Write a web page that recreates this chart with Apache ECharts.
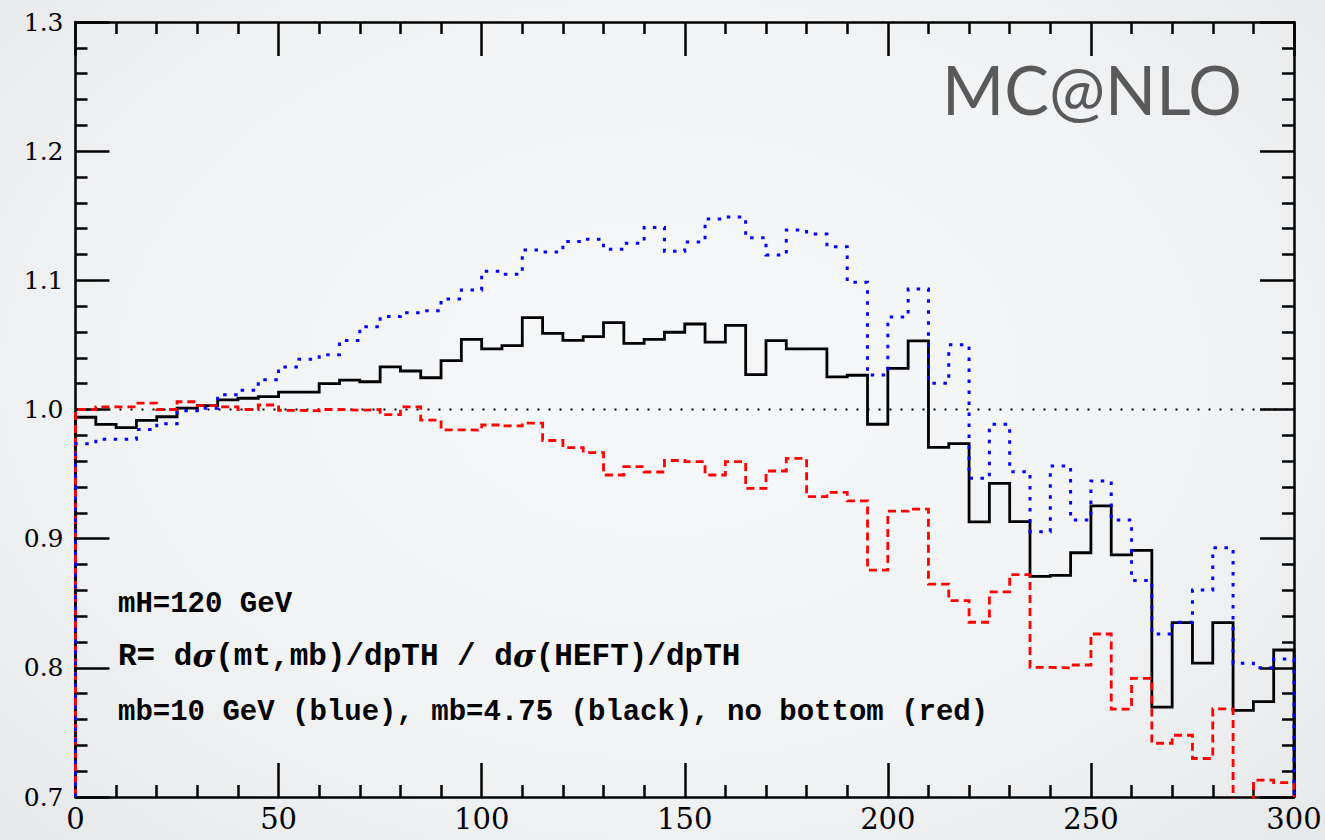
<!DOCTYPE html>
<html>
<head>
<meta charset="utf-8">
<title>MC@NLO ratio R vs pTH</title>
<script src="https://cdn.jsdelivr.net/npm/echarts@6/dist/echarts.min.js"></script>
<style>
  html, body { margin: 0; padding: 0; width: 1325px; height: 840px; overflow: hidden; }
  body { background: radial-gradient(ellipse at 50% 45%, #f6f7f8 0%, #f2f3f5 55%, #e7e8ea 100%); }
  #chart { width: 1325px; height: 840px; }
</style>
</head>
<body>
<div id="chart"></div>
<script>
// Axis ranges and histogram binning (pTH in GeV, 5 GeV bins)
const X_MIN = 0, X_MAX = 300, X_STEP = 50;
const Y_MIN = 0.7, Y_MAX = 1.3, Y_STEP = 0.1;
const BIN_WIDTH = 5;
const REF_LEVEL = 1.0;

const X_TICK_LABELS = ['0', '50', '100', '150', '200', '250', '300'];
const Y_TICK_LABELS = ['0.7', '0.8', '0.9', '1.0', '1.1', '1.2', '1.3'];

// Ratio per bin: mb = 10 GeV (blue)
const ratioMb10 = [
  0.9735, 0.977, 0.977, 0.9845, 0.989, 0.999, 1.001, 1.0115, 1.015, 1.023,
  1.033, 1.039, 1.0424, 1.0535, 1.064, 1.072, 1.075, 1.0765, 1.0855, 1.0925,
  1.107, 1.1047, 1.1235, 1.122, 1.130, 1.1318, 1.124, 1.1287, 1.141, 1.1225,
  1.1297, 1.1475, 1.149, 1.133, 1.1196, 1.139, 1.1359, 1.126, 1.0985, 1.0267,
  1.0716, 1.0933, 1.0203, 1.0501, 0.9468, 0.9885, 0.9519, 0.9054, 0.9562, 0.9145,
  0.9447, 0.9145, 0.8676, 0.8262, 0.8352, 0.8602, 0.893, 0.8035, 0.8001, 0.8068
];

// Ratio per bin: mb = 4.75 GeV (black)
const ratioMb475 = [
  0.994, 0.9885, 0.986, 0.9916, 0.9944, 1.001, 1.003, 1.0074, 1.0087, 1.010,
  1.0135, 1.0135, 1.020, 1.0228, 1.0215, 1.033, 1.0298, 1.0246, 1.0378, 1.0543,
  1.047, 1.0494, 1.0711, 1.059, 1.0535, 1.0564, 1.0672, 1.0512, 1.0543, 1.0598,
  1.0662, 1.0522, 1.0652, 1.027, 1.0533, 1.047, 1.047, 1.0253, 1.0265, 0.9886,
  1.0318, 1.0532, 0.9707, 0.9736, 0.913, 0.9428, 0.9132, 0.8708, 0.8716, 0.8891,
  0.9254, 0.8874, 0.891, 0.7696, 0.835, 0.8037, 0.835, 0.767, 0.7738, 0.8138
];

// Ratio per bin: no bottom loop (red)
const ratioNoBottom = [
  1.000, 1.002, 1.002, 1.005, 1.000, 1.006, 1.003, 1.002, 1.000, 1.0035,
  0.9994, 0.999, 1.000, 0.9995, 1.000, 0.996, 1.002, 0.9918, 0.9843, 0.984,
  0.988, 0.9873, 0.9895, 0.976, 0.9705, 0.9666, 0.9493, 0.9557, 0.9516, 0.9605,
  0.9596, 0.9493, 0.9596, 0.939, 0.9524, 0.9622, 0.9325, 0.9359, 0.9292, 0.8757,
  0.9213, 0.9228, 0.8648, 0.852, 0.8353, 0.8588, 0.8722, 0.8004, 0.800, 0.8022,
  0.8262, 0.768, 0.7918, 0.7416, 0.7478, 0.7298, 0.7682, 0.690, 0.713, 0.7112
];

// Turn per-bin values into the outline of a step histogram,
// closed down to the bottom of the frame at both ends.
function histogramOutline(values) {
  const pts = [[X_MIN, Y_MIN]];
  values.forEach((v, i) => {
    const lo = X_MIN + i * BIN_WIDTH;
    pts.push([lo, v], [lo + BIN_WIDTH, v]);
  });
  pts.push([X_MIN + values.length * BIN_WIDTH, Y_MIN]);
  return pts;
}

const FRAME = '#000';
const X_LABEL_FONT = { fontFamily: 'DejaVu Serif', fontSize: 29, color: '#000' };
const Y_LABEL_FONT = { fontFamily: 'DejaVu Serif', fontSize: 25, color: '#000' };
const NOTE_FONT = { fontFamily: 'Liberation Mono', fontSize: 29, fontWeight: 'bold', fill: '#000', verticalAlign: 'middle' };

function xAxisDef(position, showLabels) {
  return {
    type: 'value', position: position, min: X_MIN, max: X_MAX, interval: X_STEP,
    axisLine: { show: true, onZero: false, lineStyle: { color: FRAME, width: 2.5 } },
    axisTick: { show: true, inside: true, length: 34, lineStyle: { color: FRAME, width: 2.5 } },
    minorTick: { show: true, splitNumber: 5, length: 12, lineStyle: { color: FRAME, width: 2.5 } },
    splitLine: { show: false }, minorSplitLine: { show: false },
    axisLabel: Object.assign({
      show: showLabels, margin: 7,
      formatter: v => X_TICK_LABELS[Math.round((v - X_MIN) / X_STEP)]
    }, X_LABEL_FONT)
  };
}

function yAxisDef(position, showLabels) {
  return {
    type: 'value', position: position, min: Y_MIN, max: Y_MAX, interval: Y_STEP,
    axisLine: { show: true, onZero: false, lineStyle: { color: FRAME, width: 2.5 } },
    axisTick: { show: true, inside: true, length: 34, lineStyle: { color: FRAME, width: 2.5 } },
    minorTick: { show: true, splitNumber: 5, length: 12, lineStyle: { color: FRAME, width: 2.5 } },
    splitLine: { show: false }, minorSplitLine: { show: false },
    axisLabel: Object.assign({
      show: showLabels, margin: 12,
      formatter: v => Y_TICK_LABELS[Math.round((v - Y_MIN) / Y_STEP)]
    }, Y_LABEL_FONT)
  };
}

function stepSeries(name, values, color, width, dash) {
  return {
    name: name, type: 'line', xAxisIndex: 0, yAxisIndex: 0,
    data: histogramOutline(values),
    showSymbol: false, symbol: 'none', clip: true, silent: true,
    lineStyle: { color: color, width: width, type: dash, cap: 'butt', join: 'miter' }
  };
}

const chart = echarts.init(document.getElementById('chart'), null, { renderer: 'svg' });

chart.setOption({
  backgroundColor: 'transparent',
  animation: false,
  grid: { left: 75.5, right: 31, top: 22, bottom: 43, containLabel: false, outerBoundsMode: 'none' },
  xAxis: [xAxisDef('bottom', true), xAxisDef('top', false)],
  yAxis: [yAxisDef('left', true), yAxisDef('right', false)],
  series: [
    {
      name: 'R = 1', type: 'line', xAxisIndex: 0, yAxisIndex: 0,
      data: [[X_MIN, REF_LEVEL], [X_MAX, REF_LEVEL]],
      showSymbol: false, symbol: 'none', silent: true,
      lineStyle: { color: '#000', width: 2.2, type: [2, 9] }
    },
    stepSeries('mb=4.75', ratioMb475, '#000000', 2.8, 'solid'),
    stepSeries('no bottom', ratioNoBottom, '#ff0000', 2.8, [8, 5]),
    stepSeries('mb=10 GeV', ratioMb10, '#0000ff', 3, [3.5, 7.5])
  ],
  graphic: [
    {
      type: 'text', left: 942, top: 55, silent: true,
      style: { text: 'MC@NLO', fontFamily: 'Lato', fontSize: 67, fill: '#595959' }
    },
    {
      type: 'text', x: 118, y: 604, silent: true,
      style: Object.assign({ text: 'mH=120 GeV' }, NOTE_FONT)
    },
    {
      type: 'text', x: 118, y: 656, silent: true,
      style: Object.assign({}, NOTE_FONT, {
        text: 'R= d{i|σ}(mt,mb)/dpTH / d{i|σ}(HEFT)/dpTH',
        fontSize: 31,
        rich: { i: { fontFamily: 'DejaVu Serif', fontSize: 31, fontStyle: 'italic', fontWeight: 'bold', fill: '#000' } }
      })
    },
    {
      type: 'text', x: 118, y: 712, silent: true,
      style: Object.assign({ text: 'mb=10 GeV (blue), mb=4.75 (black), no bottom (red)' }, NOTE_FONT)
    }
  ]
});
</script>
</body>
</html>
